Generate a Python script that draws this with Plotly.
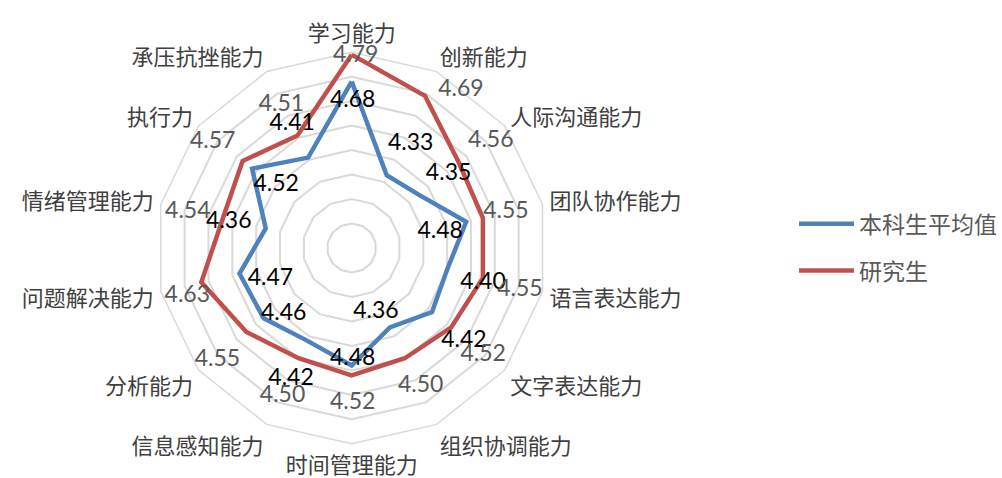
import math
import plotly.graph_objects as go

# Ability dimensions, clockwise from the top
categories = ["学习能力", "创新能力", "人际沟通能力", "团队协作能力", "语言表达能力",
              "文字表达能力", "组织协调能力", "时间管理能力", "信息感知能力", "分析能力",
              "问题解决能力", "情绪管理能力", "执行力", "承压抗挫能力"]

undergrad = [4.68, 4.33, 4.35, 4.48, 4.40, 4.42, 4.36, 4.48, 4.42, 4.46, 4.47, 4.36, 4.52, 4.41]
graduate = [4.79, 4.69, 4.56, 4.55, 4.55, 4.52, 4.50, 4.52, 4.50, 4.55, 4.63, 4.54, 4.57, 4.51]

series_names = ["本科生平均值", "研究生"]

# Pixel nudges (dx right, dy down) for each value label, relative to its point
undergrad_label_nudge = [(1, 18), (24, -33), (30, -22), (-26, 8), (36, 11), (32, 27), (-14, -17),
                         (1, -8), (-16, 37), (20, -6), (31, 4), (-37, -8), (24, 15), (-16, -35)]
graduate_label_nudge = [(4, 0), (36, -8), (32, -23), (23, -8), (37, 10), (32, 26), (16, 26),
                        (1, 26), (-16, 36), (-29, 26), (-14, 12), (-35, -8), (-30, -21), (-16, -32)]
TEXT_DY = 2                              # digits sit a little high in their text box

R_MIN, R_MAX = 4.0, 4.8
FIG_W, FIG_H = 1002, 478
CX, CY, RADIUS = 352, 248, 196          # polar centre and outer radius, in pixels

BLUE = "#4F81BD"
RED = "#C0504D"
GRID = "#D9D9D9"
CJK = "Noto Sans CJK SC"
NUM = "Lato"

n = len(categories)
step = 360.0 / n
px_per_unit = RADIUS / (R_MAX - R_MIN)


def label_positions(values, nudges):
    """Polar coordinates of each value label: the point plus a pixel nudge."""
    rs, ts = [], []
    for i, (v, (dx, dy)) in enumerate(zip(values, nudges)):
        a = math.radians(i * step)
        d = (v - R_MIN) * px_per_unit
        x = d * math.sin(a) + dx
        y = -d * math.cos(a) + dy + TEXT_DY
        rs.append(R_MIN + math.hypot(x, y) / px_per_unit)
        ts.append(math.degrees(math.atan2(x, -y)) % 360)
    return rs, ts


fig = go.Figure()

for name, vals, color, grp in [(series_names[0], undergrad, BLUE, "a"),
                               (series_names[1], graduate, RED, "b")]:
    fig.add_trace(go.Scatterpolar(
        r=vals + vals[:1], theta=categories + categories[:1], mode="lines", name=name,
        legendgroup=grp, subplot="polar",
        line=dict(color=color, width=4.5), hoverinfo="skip"))

# Value labels live on an overlaid, invisible polar with a numeric angle axis
for vals, nudges, color in [(undergrad, undergrad_label_nudge, "#000000"),
                            (graduate, graduate_label_nudge, "#595959")]:
    lr, lt = label_positions(vals, nudges)
    fig.add_trace(go.Scatterpolar(
        r=lr, theta=lt, mode="text", text=[f"{v:.2f}" for v in vals],
        textfont=dict(family=NUM, size=23, color=color), subplot="polar2",
        showlegend=False, cliponaxis=False, hoverinfo="skip"))

dom = dict(x=[(CX - RADIUS) / FIG_W, (CX + RADIUS) / FIG_W],
           y=[(FIG_H - CY - RADIUS) / FIG_H, (FIG_H - CY + RADIUS) / FIG_H])

fig.update_layout(
    width=FIG_W, height=FIG_H,
    margin=dict(l=0, r=0, t=0, b=0),
    paper_bgcolor="white", plot_bgcolor="white",
    polar=dict(
        domain=dom,
        bgcolor="white",
        gridshape="linear",
        radialaxis=dict(range=[R_MIN, R_MAX], tickvals=[4.1, 4.2, 4.3, 4.4, 4.5, 4.6, 4.7],
                        showticklabels=False, ticks="", showline=False,
                        gridcolor=GRID, gridwidth=1.5),
        angularaxis=dict(type="category", rotation=90, direction="clockwise",
                         showgrid=False, showline=True, linecolor=GRID, linewidth=1.5,
                         ticks="outside", ticklen=2, tickcolor="rgba(0,0,0,0)",
                         tickfont=dict(family=CJK, size=22, color="#404040")),
    ),
    polar2=dict(
        domain=dom,
        bgcolor="rgba(0,0,0,0)",
        radialaxis=dict(range=[R_MIN, R_MAX], visible=False),
        angularaxis=dict(rotation=90, direction="clockwise", visible=False),
    ),
    legend=dict(x=0.793, y=0.577, xanchor="left", yanchor="top",
                traceorder="grouped", tracegroupgap=14, itemwidth=55,
                font=dict(family=CJK, size=23, color="#595959")),
)

fig.write_html("out.html")
